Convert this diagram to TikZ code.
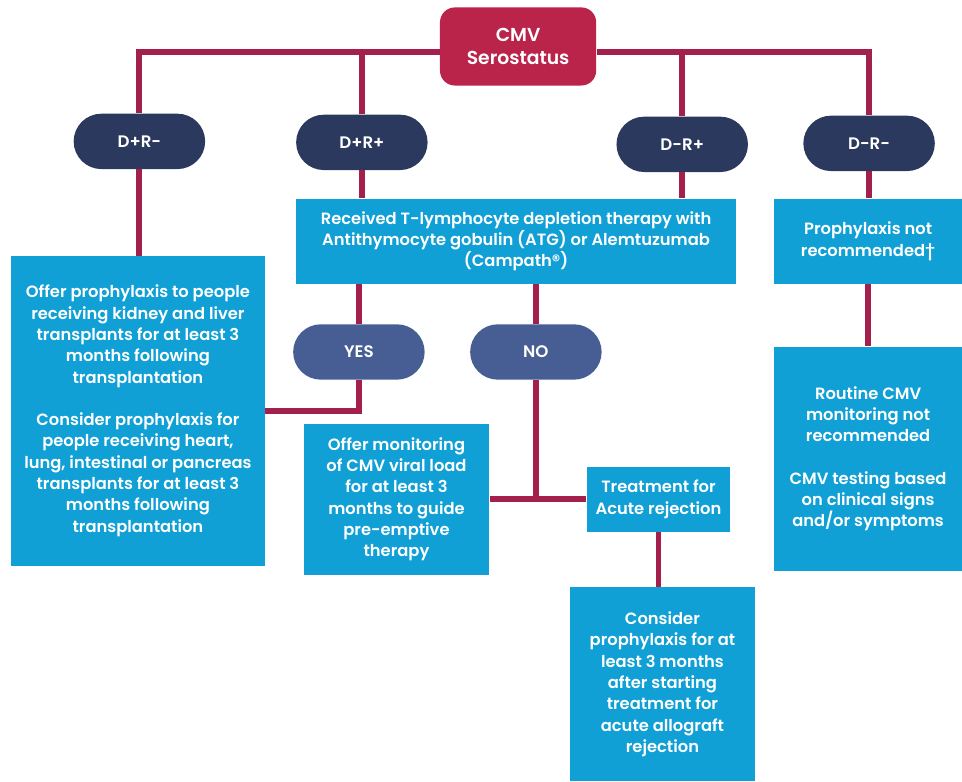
\documentclass[tikz,border=0pt]{standalone}
\usepackage{fontspec}
\IfFontExistsTF{Poppins SemiBold}{\setmainfont{Poppins}[BoldFont={Poppins SemiBold}]}{\setmainfont{Poppins}}
\usetikzlibrary{positioning}
\definecolor{cmvred}{RGB}{186,36,74}
\definecolor{linkred}{RGB}{163,32,76}
\definecolor{pillnavy}{RGB}{43,57,94}
\definecolor{pillslate}{RGB}{71,94,148}
\definecolor{boxblue}{RGB}{16,160,214}

\begin{document}
\begin{tikzpicture}[x=0.02cm, y=-0.02cm,
        link/.style={linkred, line width=3.4pt},
        pill/.style={fill=pillnavy, text=white, rounded corners=0.56cm, minimum width=2.66cm, minimum height=1.12cm, font=\fontsize{9.6}{11}\selectfont\bfseries},
        choice/.style={pill, fill=pillslate},
        infobox/.style={fill=boxblue, text=white, align=center, inner sep=0pt, font=\fontsize{9.4}{12.3}\selectfont\bfseries}]
\fill[white] (0,0) rectangle (962,787);

\node[infobox, fill=cmvred, rounded corners=0.3cm, minimum width=3.16cm, minimum height=1.58cm, font=\fontsize{10.8}{13.5}\selectfont\bfseries] (cmv) at (524,47) {CMV\\Serostatus};

\node[pill] (dprm) at (141,143) {D+R-};
\node[pill] (dprp) at (366,144) {D+R+};
\node[pill] (dmrp) at (690,146) {D-R+};
\node[pill] (dmrm) at (879,145) {D-R-};

\node[infobox, minimum width=8.9cm, minimum height=1.72cm] (atg) at (522,244) {Received T-lymphocyte depletion therapy with\\Antithymocyte gobulin (ATG) or Alemtuzumab\\(Campath®)};
\node[infobox, minimum width=3.8cm, minimum height=1.72cm] (pnr) at (878,244) {Prophylaxis not\\recommended†};
\node[infobox, minimum width=3.8cm, minimum height=4.54cm] (routine) at (878,464) {Routine CMV\\monitoring not\\recommended\\[12pt]CMV testing based\\on clinical signs\\and/or symptoms};

\node[infobox, minimum width=5.14cm, minimum height=6.26cm] (offer) at (139.5,415.5) {Offer prophylaxis to people\\receiving kidney and liver\\transplants for at least 3\\months following\\transplantation\\[12pt]Consider prophylaxis for\\people receiving heart,\\lung, intestinal or pancreas\\transplants for at least 3\\months following\\transplantation};

\node[choice] (yes) at (363,356) {YES};
\node[choice] (no) at (542,356) {NO};

\node[infobox, minimum width=3.76cm, minimum height=3.06cm] (mon) at (401,505) {Offer monitoring\\of CMV viral load\\for at least 3\\months to guide\\pre-emptive\\therapy};
\node[infobox, minimum width=2.9cm, minimum height=1.32cm] (treat) at (666,505) {Treatment for\\Acute rejection};
\node[infobox, minimum width=3.76cm, minimum height=3.92cm] (cons) at (670,692) {Consider\\prophylaxis for at\\least 3 months\\after starting\\treatment for\\acute allograft\\rejection};

\draw[link] ([yshift=-0.12cm]cmv.west) -| (dprm.north);
\draw[link] (dprp.north) |- ([yshift=-0.12cm]cmv.west);
\draw[link] ([yshift=-0.12cm]cmv.east) -| (dmrm.north);
\draw[link] (dmrp.north) |- ([yshift=-0.12cm]cmv.east);
\draw[link] (dprm.south) -- (dprm.south |- offer.north);
\draw[link] (dprp.south) -- (dprp.south |- atg.north);
\draw[link] (dmrp.south) -- (dmrp.south |- atg.north);
\draw[link] (dmrm.south) -- (dmrm.south |- pnr.north);
\draw[link] (pnr.south) -- (routine.north);
\draw[link] (atg.south -| yes.north) -- (yes.north);
\draw[link] (yes.south) |- (offer.east);
\draw[link] (atg.south -| no.north) -- (no.north);
\draw[link] (no.south) -- (no.south |- mon.east);
\draw[link] (mon.east) -- (treat.west);
\draw[link] (treat.south) -- (treat.south |- cons.north);
\end{tikzpicture}
\end{document}
